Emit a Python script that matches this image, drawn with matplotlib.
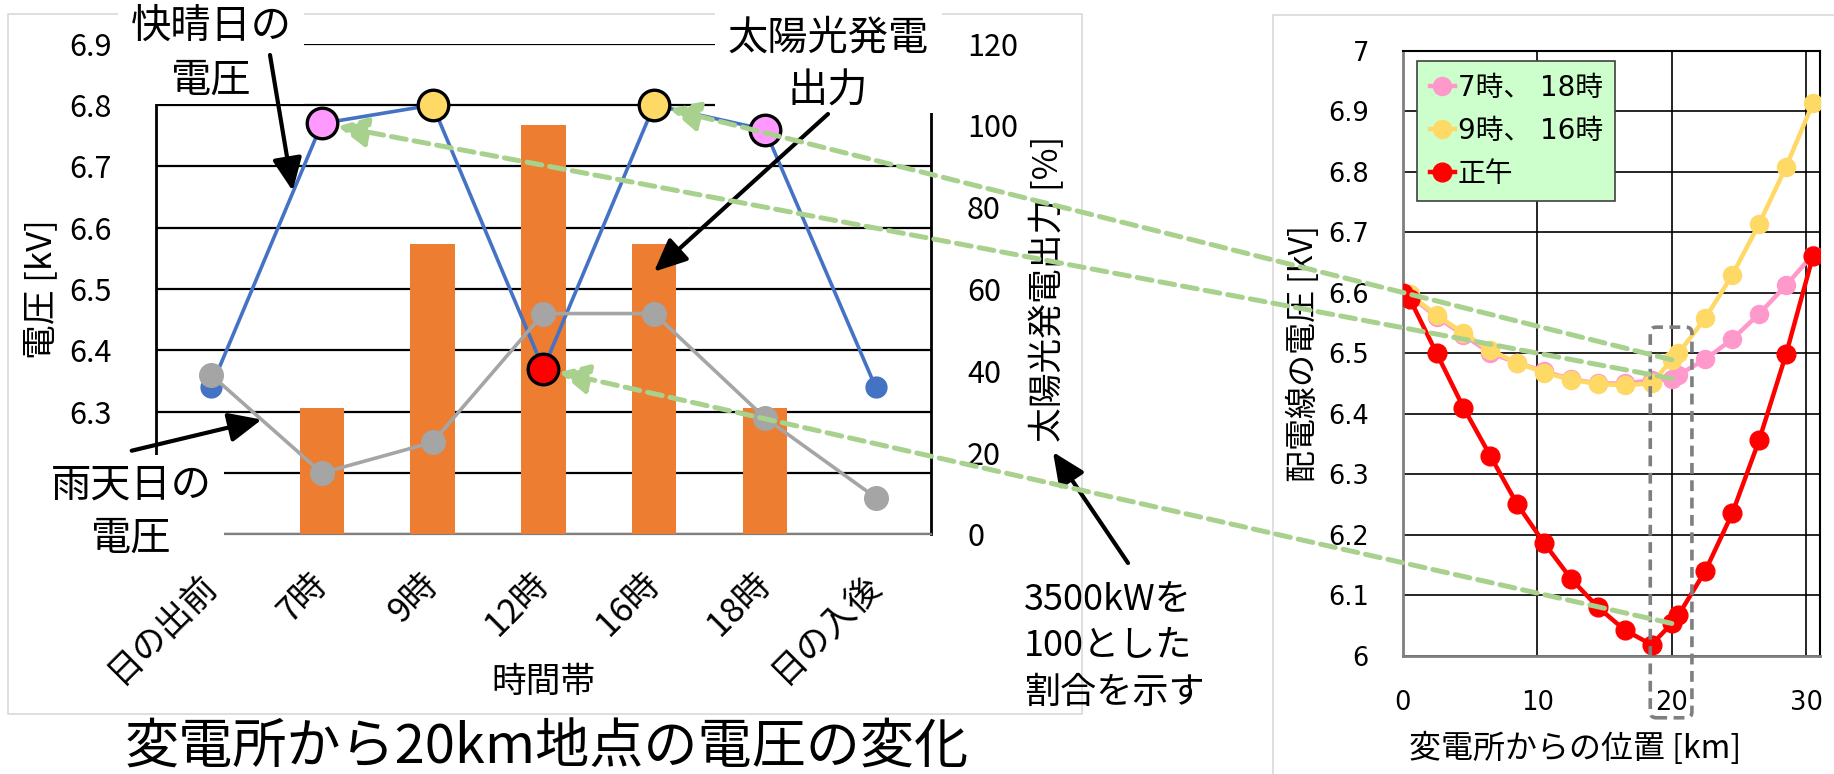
import matplotlib.pyplot as plt
from matplotlib.patches import Rectangle, FancyBboxPatch, FancyArrowPatch, ConnectionPatch

plt.rcParams['font.family'] = ['Noto Sans CJK JP', 'DejaVu Sans']

# voltage at the 20 km point over the day
times = ['日の出前', '7時', '9時', '12時', '16時', '18時', '日の入後']
pv_output = [0, 31, 71, 100, 71, 31, 0]          # % of 3500 kW
sunny_kv = [6.34, 6.77, 6.80, 6.37, 6.80, 6.76, 6.34]
rainy_kv = [6.36, 6.20, 6.25, 6.46, 6.46, 6.29, 6.16]

# voltage profile along the feeder
km = [0, 0.5, 2.5, 4.5, 6.5, 8.5, 10.5, 12.5, 14.5, 16.5, 18.5, 20, 20.5,
      22.5, 24.5, 26.5, 28.5, 30.5]
kv_7_18 = [6.60, 6.595, 6.56, 6.53, 6.50, 6.484, 6.47, 6.457, 6.45, 6.45,
           6.455, 6.458, 6.464, 6.49, 6.523, 6.565, 6.612, 6.663]
kv_9_16 = [6.60, 6.597, 6.563, 6.533, 6.505, 6.484, 6.468, 6.456, 6.449,
           6.447, 6.45, 6.489, 6.50, 6.558, 6.629, 6.714, 6.808, 6.913]
kv_noon = [6.60, 6.59, 6.50, 6.41, 6.33, 6.25, 6.186, 6.127, 6.08, 6.042,
           6.018, 6.053, 6.067, 6.14, 6.235, 6.356, 6.498, 6.66]
profile_labels = ['7時、 18時', '9時、 16時', '正午']

kv_ticks_left = [6.1, 6.2, 6.3, 6.4, 6.5, 6.6, 6.7, 6.8, 6.9]
pct_ticks = [0, 20, 40, 60, 80, 100, 120]
kv_ticks_right = [6.0, 6.1, 6.2, 6.3, 6.4, 6.5, 6.6, 6.7, 6.8, 6.9, 7.0]
km_ticks = [0, 10, 20, 30]

PINK_L = '#FF99FF'
PINK = '#FF99CC'
YELLOW = '#FFD966'
RED = '#FF0000'
GREEN = '#A9D18E'
# which time of day is shown on the right-hand profile
marker_colors = {1: PINK_L, 2: YELLOW, 3: RED, 4: YELLOW, 5: PINK_L}

W, H = 1834, 774
fig = plt.figure(figsize=(W / 100, H / 100), dpi=100)


def rect_px(x0, y0, x1, y1):
    return [x0 / W, 1 - y1 / H, (x1 - x0) / W, (y1 - y0) / H]


def pt_px(x, y):
    return (x / W, 1 - y / H)


# ---- left chart ----
axL = fig.add_axes(rect_px(155.7, 43.7, 931, 534.3))
axP = axL.twinx()
axL.set_zorder(2)
axL.patch.set_visible(False)
axP.set_zorder(1)

xs = list(range(len(times)))
axP.bar(xs, pv_output, width=0.4, color='#ED7D31', zorder=3)
axP.set_ylim(0, 120)
axP.set_yticks(pct_ticks)
axP.tick_params(axis='y', length=0, pad=26, labelsize=22)
kv_lo, kv_hi = kv_ticks_left[0], kv_ticks_left[-1]
for v in kv_ticks_left:
    axP.axhline((v - kv_lo) / (kv_hi - kv_lo) * 120, color='black', lw=1.6, zorder=1)

axL.plot(xs, sunny_kv, color='#4472C4', lw=2.6, marker='o', ms=15, zorder=3)
axL.plot(xs, rainy_kv, color='#A5A5A5', lw=2.6, marker='o', ms=17, zorder=4)
for i, c in marker_colors.items():
    axL.plot(i, sunny_kv[i], 'o', ms=22, mfc=c, mec='black', mew=2.4, zorder=5)

axL.set_xlim(-0.5, 6.5)
axL.set_ylim(kv_lo, kv_hi)
axL.set_yticks(kv_ticks_left)
# the two lowest labels sit under the rainy-day callout
axL.set_yticklabels(['' if v < 6.25 else f'{v:.1f}' for v in kv_ticks_left])
axL.tick_params(axis='y', length=0, pad=31.5, labelsize=22)
axL.set_xticks(xs)
axL.set_xticklabels(times, rotation=45, ha='right', va='center',
                    rotation_mode='anchor', fontsize=25)
axL.tick_params(axis='x', length=0, pad=32)

for s in ['top', 'right', 'bottom']:
    axL.spines[s].set_visible(False)
axL.spines['left'].set_linewidth(2)
for s in ['top', 'left']:
    axP.spines[s].set_visible(False)
axP.spines['right'].set_linewidth(2)
axP.spines['bottom'].set_color('#7F7F7F')
axP.spines['bottom'].set_linewidth(1.6)

axL.set_ylabel('電圧 [kV]', fontsize=25)
axL.yaxis.set_label_coords(-0.1467, 0.5)
axL.yaxis.label.set_va('center')
axP.set_ylabel('太陽光発電出力 [%]', fontsize=25, rotation=90)
axP.yaxis.set_label_coords(1.151, 0.5)
axP.yaxis.label.set_va('center')
axL.set_xlabel('時間帯', fontsize=25)
axL.xaxis.set_label_coords(0.5, (534.3 - 682) / 490.6)
axL.xaxis.label.set_va('center')

# ---- right chart ----
axV = fig.add_axes(rect_px(1403, 50.8, 1819.6, 655.5))
axV.plot(km, kv_7_18, color=PINK, lw=3.2, marker='o', ms=13, label=profile_labels[0], zorder=3)
axV.plot(km, kv_9_16, color=YELLOW, lw=3.2, marker='o', ms=13, label=profile_labels[1], zorder=4)
axV.plot(km, kv_noon, color=RED, lw=3.2, marker='o', ms=13.5, label=profile_labels[2], zorder=5)
axV.set_xlim(0, 31)
axV.set_ylim(6, 7)
axV.set_xticks(km_ticks)
axV.set_xticklabels([str(k) for k in km_ticks], fontfamily='DejaVu Sans')
axV.set_yticks(kv_ticks_right)
axV.set_yticklabels([f'{v:g}' for v in kv_ticks_right], fontfamily='DejaVu Sans')
axV.tick_params(axis='y', length=0, pad=24.5, labelsize=18.5)
axV.tick_params(axis='x', length=0, pad=25, labelsize=18.5)
axV.grid(color='black', lw=1.2)
axV.set_axisbelow(True)
for s in ['left', 'bottom']:
    axV.spines[s].set_color('#7F7F7F')
    axV.spines[s].set_linewidth(2)
for s in ['top', 'right']:
    axV.spines[s].set_linewidth(1.5)
axV.set_ylabel('配電線の電圧 [kV]', fontsize=23)
axV.yaxis.set_label_coords(-0.240, 0.4986)
axV.yaxis.label.set_va('center')
axV.set_xlabel('変電所からの位置 [km]', fontsize=23)
axV.xaxis.set_label_coords(0.413, -0.153)
axV.xaxis.label.set_va('center')

leg = axV.legend(loc='upper left', bbox_to_anchor=(0.0343, 0.983),
                 prop={'family': ['DejaVu Sans', 'Noto Sans CJK JP'], 'size': 20},
                 handlelength=0.9, handletextpad=0.1, labelspacing=0.55,
                 borderpad=0.45, borderaxespad=0, fancybox=False, framealpha=1,
                 facecolor='#CCFFCC', edgecolor='#404040')
leg.get_frame().set_linewidth(1.2)

# dashed frame around the 20 km point
dpi = fig.dpi
x0d, ytop = axV.transData.transform((18.4, 6.543))
x1d, _ = axV.transData.transform((21.5, 6.543))
ybot = axV.transAxes.transform((0, -0.103))[1]
fig.add_artist(FancyBboxPatch((x0d / dpi, ybot / dpi), (x1d - x0d) / dpi, (ytop - ybot) / dpi,
                              boxstyle='round,pad=0,rounding_size=0.06',
                              transform=fig.dpi_scale_trans, fill=False,
                              ec='#7F7F7F', lw=2.6, ls=(0, (3, 1.8)), zorder=6))

# panel frames
fig.add_artist(Rectangle(pt_px(8.3, 714), (1082 - 8.3) / W, (714 - 14) / H,
                         transform=fig.transFigure, fill=False, ec='#D9D9D9', lw=1.2, zorder=0.5))
fig.add_artist(Rectangle(pt_px(1273.3, 800), 600 / W, (800 - 14.8) / H,
                         transform=fig.transFigure, fill=False, ec='#D9D9D9', lw=1.2, zorder=0.5))

# white backing behind the callout texts
for x0, y0, x1, y1 in [(118, 10, 304, 104), (715, 10, 942, 113), (42, 455, 224, 562)]:
    fig.add_artist(Rectangle(pt_px(x0, y1), (x1 - x0) / W, (y1 - y0) / H,
                             transform=fig.transFigure, fc='white', ec='none', zorder=5))

fig.text(*pt_px(211.5, 53.5), '快晴日の\n電圧', fontsize=29, ha='center', va='center',
         linespacing=1.4, zorder=6)
fig.text(*pt_px(828, 64.5), '太陽光発電\n出力', fontsize=29, ha='center', va='center',
         linespacing=1.4, zorder=6)
fig.text(*pt_px(131.5, 511.5), '雨天日の\n電圧', fontsize=29, ha='center', va='center',
         linespacing=1.4, zorder=6)
fig.text(*pt_px(1024, 646), '3500kWを\n100とした\n割合を示す', fontsize=26, ha='left',
         va='center', ma='left', linespacing=1.4, zorder=6)
fig.text(*pt_px(547, 748), '変電所から20km地点の電圧の変化', fontsize=39, ha='center',
         va='center', zorder=6)

# black callout arrows
callouts = [((270, 55), (292.7, 191)), ((131.7, 450.7), (261.7, 419.6)),
            ((828, 114), (654, 271.7)), ((1128, 563), (1053, 452))]
for tail, tip in callouts:
    fig.add_artist(FancyArrowPatch(pt_px(*tail), pt_px(*tip), transform=fig.transFigure,
                                   arrowstyle='-|>,head_length=1.0,head_width=0.45',
                                   mutation_scale=20, color='black', lw=3,
                                   shrinkA=0, shrinkB=0, zorder=7))

# green links from the 20 km point back to the daily chart
i20 = km.index(20)
links = [(kv_9_16[i20], 4), (kv_7_18[i20], 1), (kv_noon[i20], 3)]
for kv_r, i in links:
    fig.add_artist(ConnectionPatch(xyA=(20, kv_r), coordsA=axV.transData,
                                   xyB=(i, sunny_kv[i]), coordsB=axL.transData,
                                   arrowstyle='-|>,head_length=0.9,head_width=0.45',
                                   mutation_scale=20, color=GREEN, lw=3.6,
                                   ls=(0, (3, 1.6)), shrinkA=0, shrinkB=11.5, zorder=9))

fig.savefig('out.png', dpi=100)
